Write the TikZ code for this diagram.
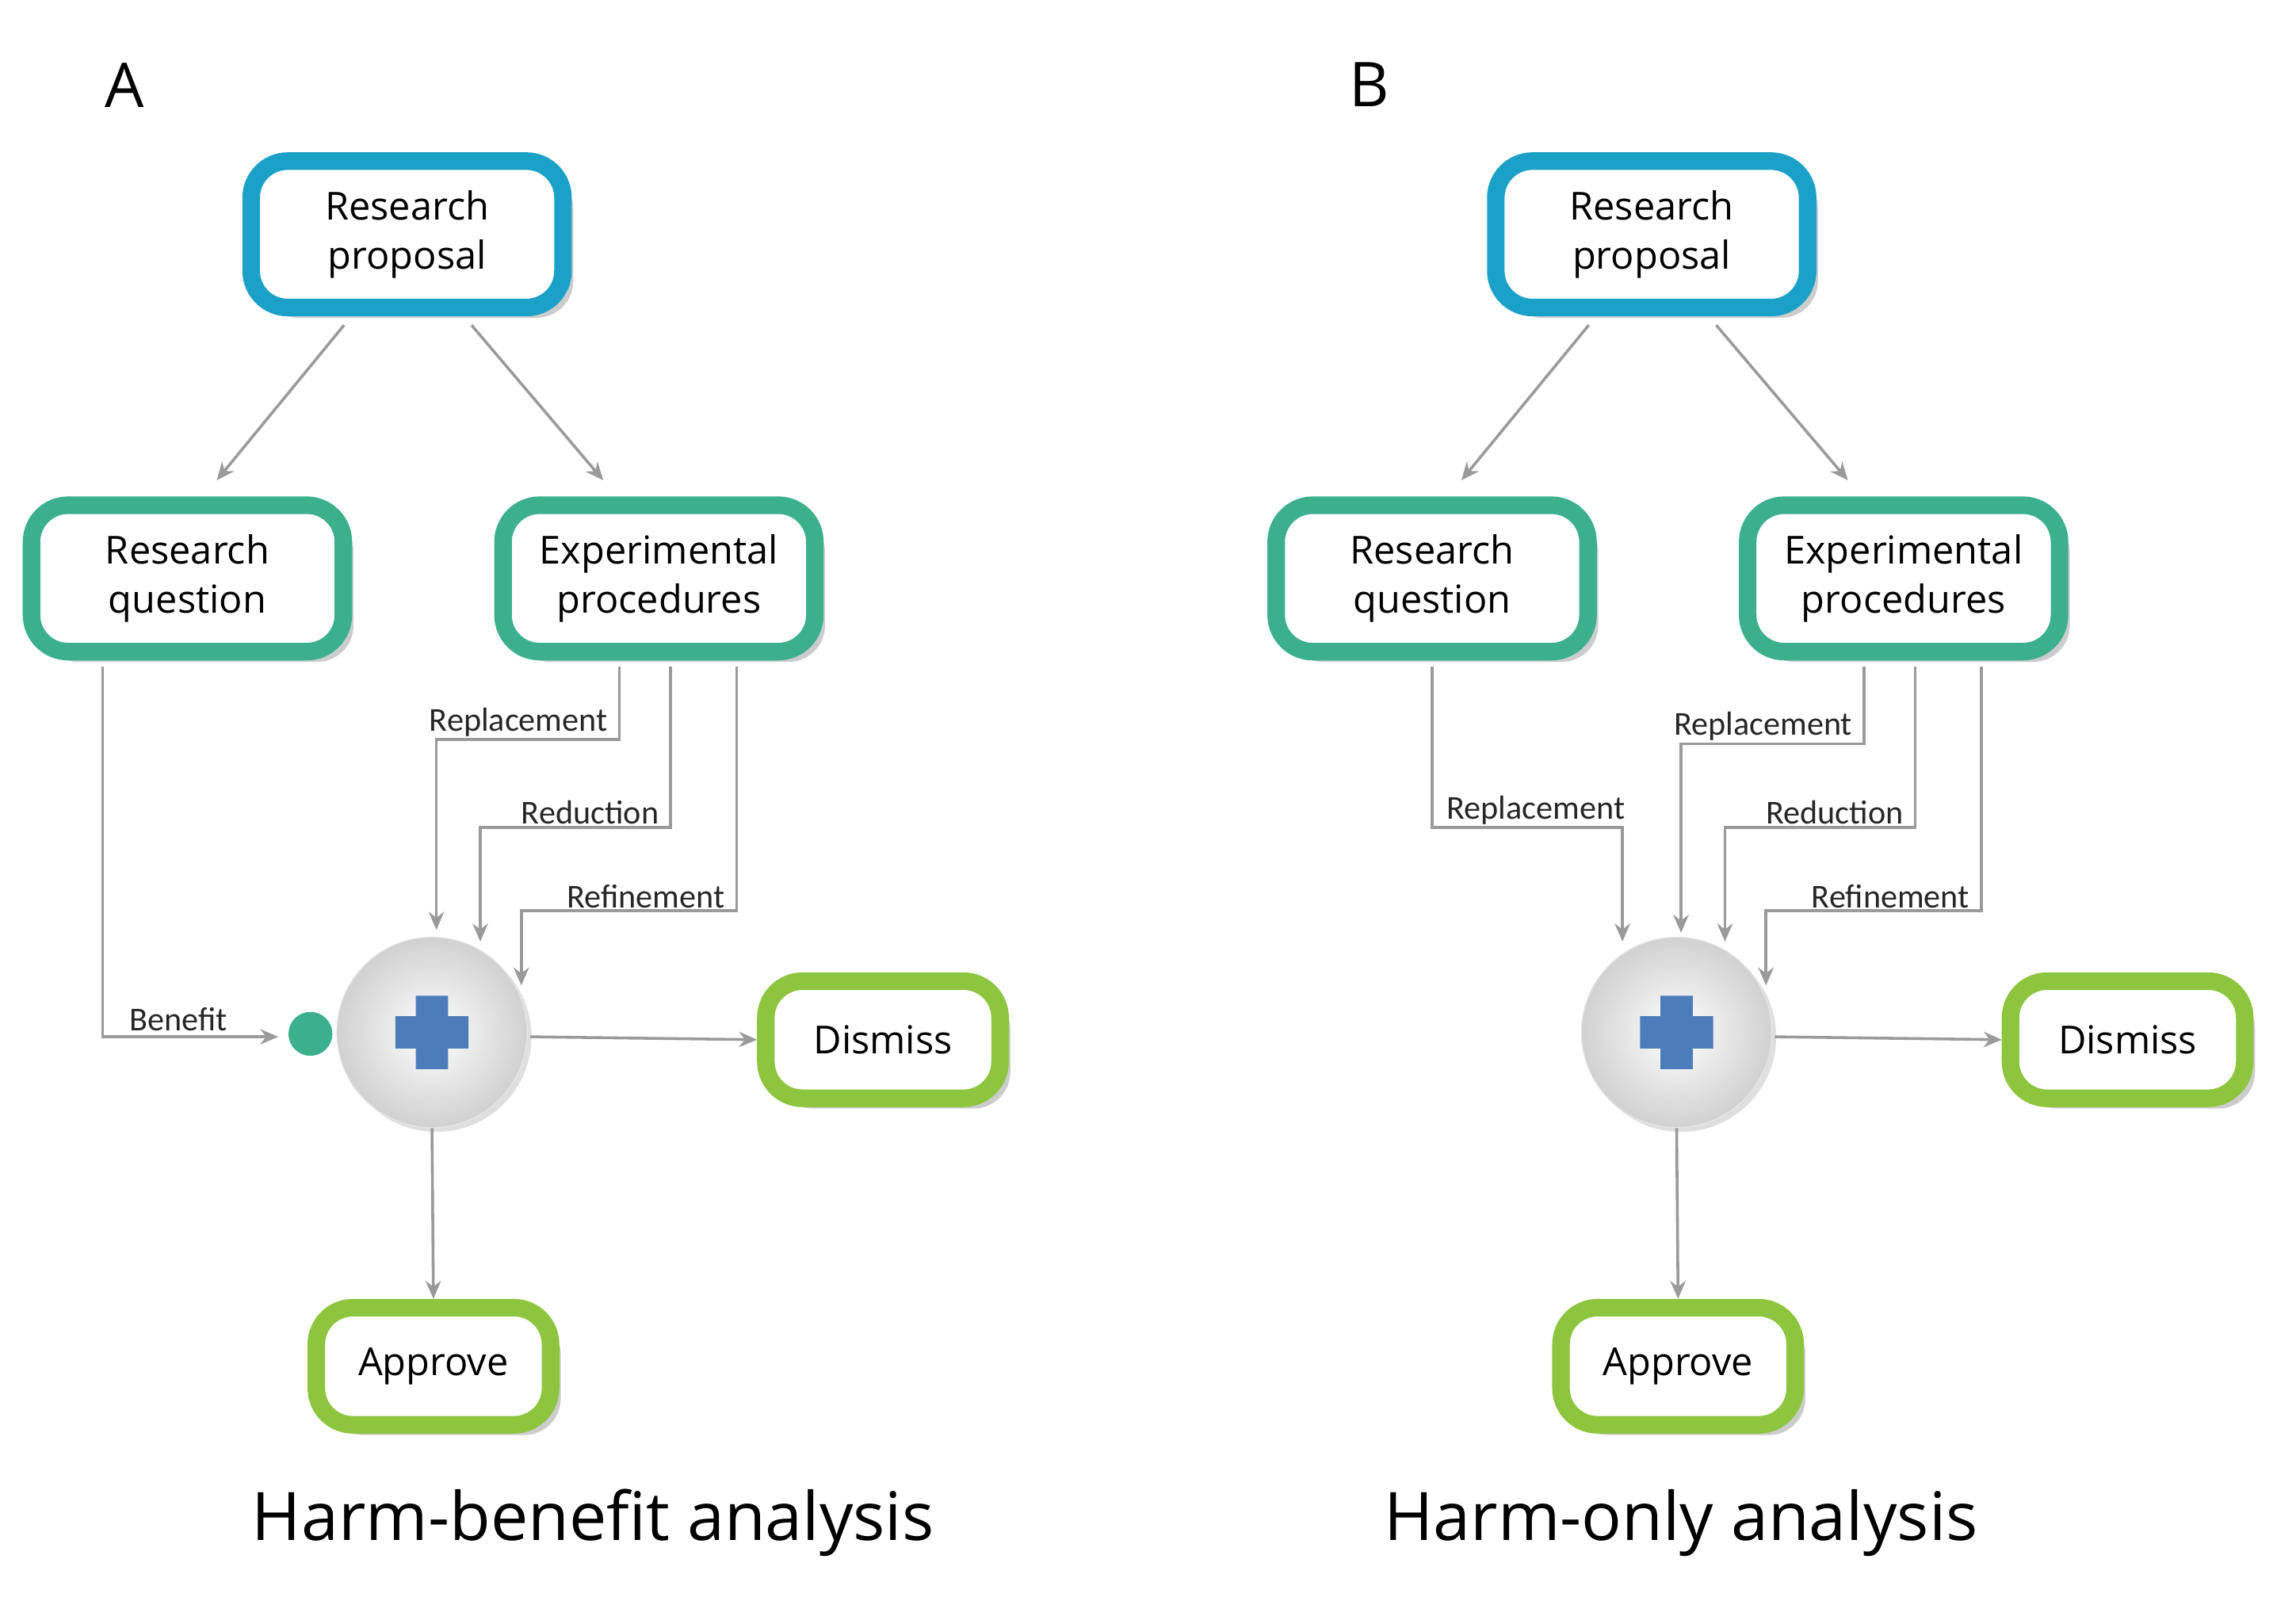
\documentclass[tikz,border=0pt]{standalone}
\usepackage{fontspec}
\setmainfont{Open Sans}
\newfontfamily\lblfont{Carlito}
\usetikzlibrary{shadows,arrows.meta}
\definecolor{cblue}{HTML}{1BA1C8}
\definecolor{cteal}{HTML}{3CB08E}
\definecolor{cgreen}{HTML}{8DC53E}
\definecolor{cplus}{HTML}{4C7DBA}
\definecolor{cline}{HTML}{9A9A9A}
\begin{document}
\begin{tikzpicture}[x=0.02cm,y=-0.02cm,
  box/.style={draw=#1,line width=0.24cm,fill=white,rounded corners=0.5cm,align=center,
    font=\fontsize{15}{19}\selectfont,drop shadow={shadow xshift=0.14cm,shadow yshift=-0.14cm,opacity=0.4}},
  big/.style={box=#1,minimum width=4.26cm,minimum height=2cm},
  small/.style={box=#1,minimum width=3.2cm,minimum height=1.6cm},
  conn/.style={draw=cline,line width=1.1pt,-{Stealth[length=7pt,width=6pt]}},
  lbl/.style={font=\lblfont\fontsize{13}{15}\selectfont,text=black!85,inner sep=1pt},
  sum/.style={circle,minimum size=2.6cm,inner color=white,outer color=black!18,draw=black!10,
    drop shadow={shadow xshift=0.06cm,shadow yshift=-0.06cm,opacity=0.25}}]
\useasboundingbox (0,0) rectangle (1568,1093);
\foreach \dx/\p/\t/\tx in {0/A/Harm-benefit analysis/405,850/B/Harm-only analysis/298}{
\begin{scope}[xshift=\dx*0.02cm]
\node[font=\fontsize{24}{28}\selectfont] (L\p) at (85,58) {\p};
\node[big=cblue] (RP\p) at (278,160) {Research\\proposal};
\node[big=cteal] (RQ\p) at (128,395) {Research\\question};
\node[big=cteal] (EP\p) at (450,395) {Experimental\\procedures};
\node[sum] (S\p) at (295,705) {};
\fill[cplus] (284,680) rectangle (306,730) (270,694) rectangle (320,716);
\node[small=cgreen] (D\p) at (603,710) {Dismiss};
\node[small=cgreen] (AP\p) at (296,933) {Approve};
\node[font=\fontsize{26}{30}\selectfont] (T\p) at (\tx,1040) {\t};
\coordinate (p1\p) at (235,222); \coordinate (p2\p) at (148,328);
\coordinate (p3\p) at (322,222); \coordinate (p4\p) at (412,328);
\draw[conn] (p1\p) -- (p2\p);
\draw[conn] (p3\p) -- (p4\p);
\draw[conn] (362,708) -- (D\p.west);
\draw[conn] (S\p.south) -- (AP\p.north);
\draw[conn] (458,455) |- (328,565) -- (328,643);
\draw[conn] (503,455) |- (356,622) -- (356,673);
\node[lbl,anchor=south east] (Rd\p) at (452,565) {Reduction};
\node[lbl,anchor=south east] (Rf\p) at (497,622) {Refinement};
\end{scope}}
% A specific
\node[circle,fill=cteal,minimum size=0.6cm,inner sep=0] (G) at (212,706) {};
\draw[conn] (70,455) |- (190,708);
\node[lbl,anchor=south] (Ben) at (122,706) {Benefit};
\draw[conn] (423,455) |- (298,505) -- (298,635);
\node[lbl,anchor=south east] (RpA) at (417,505) {Replacement};
% B specific
\draw[conn] (978,455) |- (1108,565) -- (1108,643);
\node[lbl,anchor=south west] (RpB1) at (986,565) {Replacement};
\draw[conn] (1273,455) |- (1148,508) -- (1148,637);
\node[lbl,anchor=south east] (RpB2) at (1267,508) {Replacement};
\end{tikzpicture}
\end{document}
